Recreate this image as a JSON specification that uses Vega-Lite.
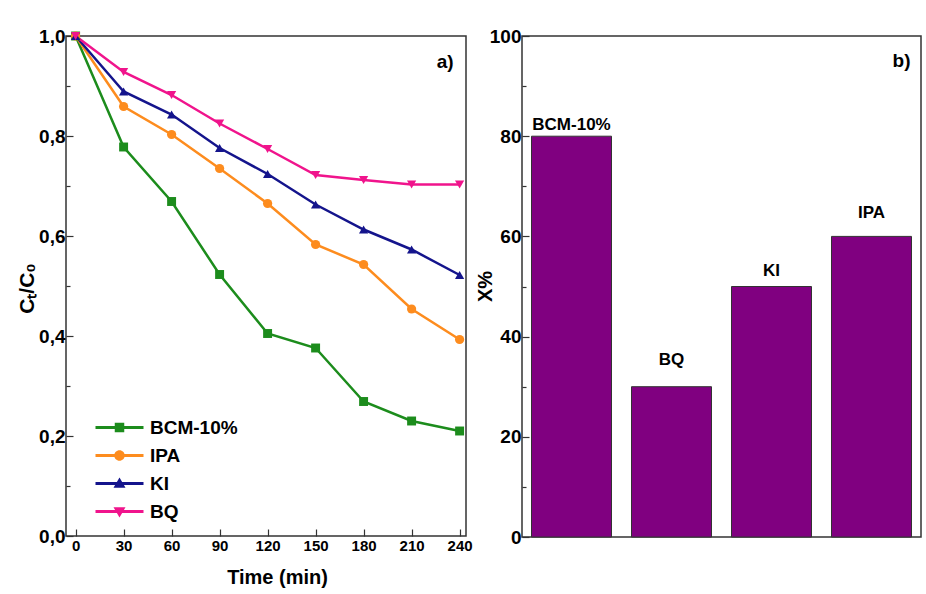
{
  "$schema": "https://vega.github.io/schema/vega-lite/v6.json",
  "background": "white",
  "padding": {"left": 15, "top": 26, "right": 0, "bottom": 0},
  "autosize": {"type": "pad"},
  "bounds": "flush",
  "spacing": 56,
  "config": {
    "font": "Liberation Sans",
    "view": {"stroke": "#333333", "strokeWidth": 1.5},
    "axis": {"domain": false, "grid": false, "labelFont": "Liberation Sans", "labelFontWeight": "bold", "labelColor": "#000000", "titleFont": "Liberation Sans", "titleFontWeight": "bold", "titleColor": "#000000", "tickColor": "#333333", "tickWidth": 1.2, "labelOverlap": false}
  },
  "datasets": {
    "kinetics": [
      {"series": "BCM-10%", "time": 0, "ratio": 1.0},
      {"series": "BCM-10%", "time": 30, "ratio": 0.778},
      {"series": "BCM-10%", "time": 60, "ratio": 0.669},
      {"series": "BCM-10%", "time": 90, "ratio": 0.523},
      {"series": "BCM-10%", "time": 120, "ratio": 0.405},
      {"series": "BCM-10%", "time": 150, "ratio": 0.376},
      {"series": "BCM-10%", "time": 180, "ratio": 0.269},
      {"series": "BCM-10%", "time": 210, "ratio": 0.23},
      {"series": "BCM-10%", "time": 240, "ratio": 0.21},
      {"series": "IPA", "time": 0, "ratio": 1.0},
      {"series": "IPA", "time": 30, "ratio": 0.859},
      {"series": "IPA", "time": 60, "ratio": 0.803},
      {"series": "IPA", "time": 90, "ratio": 0.735},
      {"series": "IPA", "time": 120, "ratio": 0.665},
      {"series": "IPA", "time": 150, "ratio": 0.583},
      {"series": "IPA", "time": 180, "ratio": 0.543},
      {"series": "IPA", "time": 210, "ratio": 0.454},
      {"series": "IPA", "time": 240, "ratio": 0.393},
      {"series": "KI", "time": 0, "ratio": 1.0},
      {"series": "KI", "time": 30, "ratio": 0.889},
      {"series": "KI", "time": 60, "ratio": 0.843},
      {"series": "KI", "time": 90, "ratio": 0.776},
      {"series": "KI", "time": 120, "ratio": 0.724},
      {"series": "KI", "time": 150, "ratio": 0.663},
      {"series": "KI", "time": 180, "ratio": 0.613},
      {"series": "KI", "time": 210, "ratio": 0.573},
      {"series": "KI", "time": 240, "ratio": 0.522},
      {"series": "BQ", "time": 0, "ratio": 1.0},
      {"series": "BQ", "time": 30, "ratio": 0.928},
      {"series": "BQ", "time": 60, "ratio": 0.882},
      {"series": "BQ", "time": 90, "ratio": 0.825},
      {"series": "BQ", "time": 120, "ratio": 0.774},
      {"series": "BQ", "time": 150, "ratio": 0.722},
      {"series": "BQ", "time": 180, "ratio": 0.712},
      {"series": "BQ", "time": 210, "ratio": 0.703},
      {"series": "BQ", "time": 240, "ratio": 0.703}
    ],
    "scavenger": [
      {"sample": "BCM-10%", "removal": 80, "labelAt": 81.2},
      {"sample": "BQ", "removal": 30, "labelAt": 34.3},
      {"sample": "KI", "removal": 50, "labelAt": 52.1},
      {"sample": "IPA", "removal": 60, "labelAt": 63.7}
    ]
  },
  "hconcat": [
    {
      "width": 400,
      "height": 500,
      "layer": [
        {
          "data": {"name": "kinetics"},
          "mark": {"type": "line", "strokeWidth": 2.5},
          "encoding": {
            "x": {"field": "time", "type": "quantitative", "scale": {"domain": [-6, 244], "nice": false, "zero": false},
              "axis": {"values": [0, 15, 30, 45, 60, 75, 90, 105, 120, 135, 150, 165, 180, 195, 210, 225, 240],
                "labelExpr": "datum.value % 30 === 0 ? datum.label : ''", "labelFontSize": 15, "labelFlush": false, "labelPadding": 9,
                "tickSize": {"condition": {"test": "datum.value % 30 === 0", "value": -7}, "value": -4},
                "title": "Time (min)", "titleFontSize": 20, "titleX": 211, "titleY": 47, "titleBaseline": "alphabetic"}},
            "y": {"field": "ratio", "type": "quantitative", "scale": {"domain": [0, 1], "nice": false},
              "axis": {"values": [0, 0.1, 0.2, 0.3, 0.4, 0.5, 0.6, 0.7, 0.8, 0.9, 1.0],
                "labelExpr": "round(datum.value * 10) % 2 === 0 ? replace(format(datum.value, '.1f'), '.', ',') : ''",
                "labelFontSize": 19, "labelPadding": 8,
                "tickSize": {"condition": {"test": "round(datum.value * 10) % 2 === 0", "value": -7}, "value": -4},
                "title": "Cₜ/C₀", "titleFontSize": 21, "titleX": -33, "titleY": 252, "titleBaseline": "alphabetic", "titleAngle": -90}},
            "color": {"field": "series", "type": "nominal", "sort": ["BCM-10%", "IPA", "KI", "BQ"],
              "scale": {"range": ["#1c8c1c", "#fd8c1e", "#14148c", "#f0148c"]},
              "legend": null}
          }
        },
        {
          "data": {"name": "kinetics"},
          "transform": [{"filter": "datum.series === 'BCM-10%'"}],
          "mark": {"type": "point", "shape": "square", "filled": true, "size": 80, "opacity": 1},
          "encoding": {
            "x": {"field": "time", "type": "quantitative"},
            "y": {"field": "ratio", "type": "quantitative"},
            "color": {"field": "series", "type": "nominal", "sort": ["BCM-10%", "IPA", "KI", "BQ"], "legend": null}
          }
        },
        {
          "data": {"name": "kinetics"},
          "transform": [{"filter": "datum.series === 'IPA'"}],
          "mark": {"type": "point", "shape": "circle", "filled": true, "size": 85, "opacity": 1},
          "encoding": {
            "x": {"field": "time", "type": "quantitative"},
            "y": {"field": "ratio", "type": "quantitative"},
            "color": {"field": "series", "type": "nominal", "sort": ["BCM-10%", "IPA", "KI", "BQ"], "legend": null}
          }
        },
        {
          "data": {"name": "kinetics"},
          "transform": [{"filter": "datum.series === 'KI'"}],
          "mark": {"type": "point", "shape": "triangle-up", "filled": true, "size": 85, "opacity": 1},
          "encoding": {
            "x": {"field": "time", "type": "quantitative"},
            "y": {"field": "ratio", "type": "quantitative"},
            "color": {"field": "series", "type": "nominal", "sort": ["BCM-10%", "IPA", "KI", "BQ"], "legend": null}
          }
        },
        {
          "data": {"name": "kinetics"},
          "transform": [{"filter": "datum.series === 'BQ'"}],
          "mark": {"type": "point", "shape": "triangle-down", "filled": true, "size": 85, "opacity": 1},
          "encoding": {
            "x": {"field": "time", "type": "quantitative"},
            "y": {"field": "ratio", "type": "quantitative"},
            "color": {"field": "series", "type": "nominal", "sort": ["BCM-10%", "IPA", "KI", "BQ"], "legend": null}
          }
        },
        {
          "data": {"name": "kinetics"},
          "transform": [{"filter": "datum.time < 0"}],
          "mark": {"type": "point", "filled": true, "size": 100, "opacity": 1},
          "encoding": {
            "x": {"field": "time", "type": "quantitative"},
            "y": {"field": "ratio", "type": "quantitative"},
            "fill": {"field": "series", "type": "nominal",
              "scale": {"domain": ["BCM-10%", "IPA", "KI", "BQ"], "range": ["#1c8c1c", "#fd8c1e", "#14148c", "#f0148c"]},
              "legend": {"orient": "none", "legendX": 44, "legendY": 382, "title": null, "padding": 0,
                "symbolSize": 100, "symbolStrokeWidth": 0, "symbolOpacity": 1, "labelFontSize": 19, "labelFontWeight": "bold",
                "labelColor": "#000000", "labelFont": "Liberation Sans", "labelOffset": 21, "rowPadding": 8}},
            "shape": {"field": "series", "type": "nominal",
              "scale": {"domain": ["BCM-10%", "IPA", "KI", "BQ"], "range": [
                "M-4.8,-0.28H-0.95V-0.95H0.95V-0.28H4.8V0.28H0.95V0.95H-0.95V0.28H-4.8Z",
                "M-4.8,-0.28H4.8V0.28H-4.8ZM1.05,0A1.05,1.05,0,1,1,-1.05,0A1.05,1.05,0,1,1,1.05,0Z",
                "M-4.8,-0.28H4.8V0.28H-4.8ZM0,-1.2L1.2,0.85H-1.2Z",
                "M-4.8,-0.28H4.8V0.28H-4.8ZM0,1.2L-1.2,-0.85H1.2Z"]},
              "legend": {"orient": "none", "legendX": 44, "legendY": 382, "title": null, "padding": 0,
                "symbolSize": 100, "symbolStrokeWidth": 0, "symbolOpacity": 1, "labelFontSize": 19, "labelFontWeight": "bold",
                "labelColor": "#000000", "labelFont": "Liberation Sans", "labelOffset": 21, "rowPadding": 8}}
          }
        },
        {
          "data": {"values": [{"time": 231, "ratio": 0.948, "tag": "a)"}]},
          "mark": {"type": "text", "fontSize": 19, "fontWeight": "bold", "font": "Liberation Sans", "baseline": "middle", "color": "#000000"},
          "encoding": {
            "x": {"field": "time", "type": "quantitative"},
            "y": {"field": "ratio", "type": "quantitative"},
            "text": {"field": "tag"}
          }
        }
      ]
    },
    {
      "width": 399,
      "height": 501,
      "data": {"name": "scavenger"},
      "layer": [
        {
          "mark": {"type": "bar", "color": "#800080", "stroke": "#333333", "strokeWidth": 1},
          "encoding": {
            "x": {"field": "sample", "type": "nominal", "sort": null, "scale": {"paddingInner": 0.2, "paddingOuter": 0.095}, "axis": null},
            "y": {"field": "removal", "type": "quantitative", "scale": {"domain": [0, 100], "nice": false},
              "axis": {"values": [0, 10, 20, 30, 40, 50, 60, 70, 80, 90, 100],
                "labelExpr": "datum.value % 20 === 0 ? datum.label : ''", "labelFontSize": 19, "labelPadding": 8,
                "tickSize": {"condition": {"test": "datum.value % 20 === 0", "value": -7}, "value": -4},
                "title": "X%", "titleFontSize": 20, "titleX": -31, "titleY": 250, "titleBaseline": "alphabetic", "titleAngle": -90}}
          }
        },
        {
          "mark": {"type": "text", "fontSize": 17, "fontWeight": "bold", "font": "Liberation Sans", "baseline": "alphabetic", "color": "#000000"},
          "encoding": {
            "x": {"field": "sample", "type": "nominal", "sort": null},
            "y": {"field": "labelAt", "type": "quantitative"},
            "text": {"field": "sample"}
          }
        },
        {
          "data": {"values": [{"tag": "b)"}]},
          "mark": {"type": "text", "fontSize": 19, "fontWeight": "bold", "font": "Liberation Sans", "baseline": "middle", "color": "#000000"},
          "encoding": {
            "x": {"datum": "IPA", "type": "nominal", "bandPosition": 0.875},
            "y": {"datum": 95, "type": "quantitative"},
            "text": {"field": "tag"}
          }
        }
      ]
    }
  ]
}
